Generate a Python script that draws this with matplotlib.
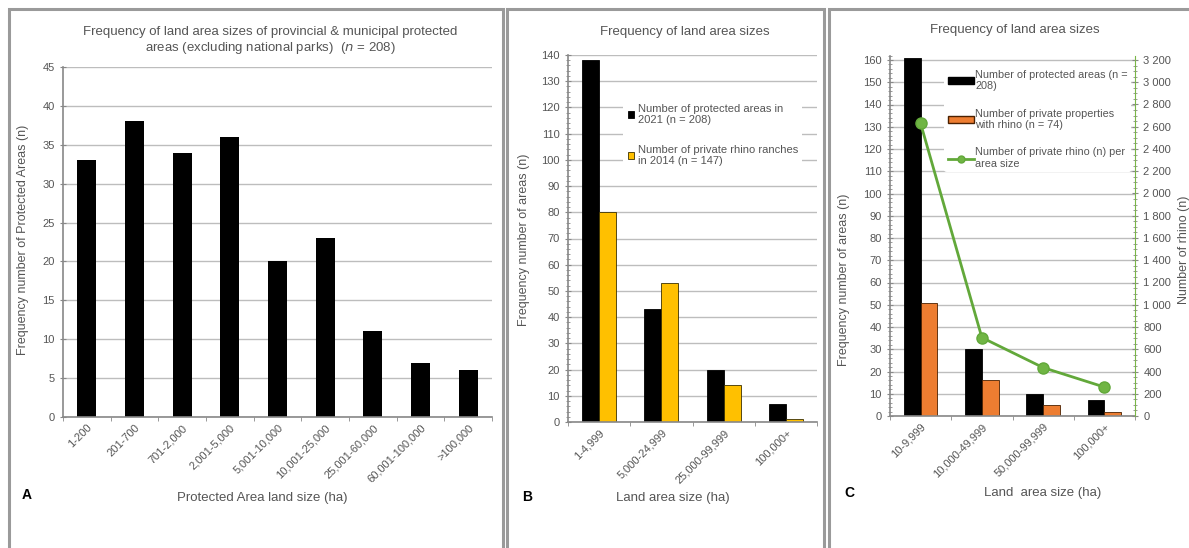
import numpy as np
import matplotlib.pyplot as plt
from matplotlib.patches import Rectangle
from matplotlib.lines import Line2D
from matplotlib.ticker import MultipleLocator, FuncFormatter

plt.rcParams['font.family'] = ['Liberation Sans', 'DejaVu Sans']

# panel A data
cats_a = ['1-200', '201-700', '701-2,000', '2,001-5,000', '5,001-10,000',
          '10,001-25,000', '25,001-60,000', '60,001-100,000', '>100,000']
vals_a = [33, 38, 34, 36, 20, 23, 11, 7, 6]

# panel B data
cats_b = ['1-4,999', '5,000-24,999', '25,000-99,999', '100,000+']
pa_2021 = [138, 43, 20, 7]
ranches_2014 = [80, 53, 14, 1]

# panel C data
cats_c = ['10-9,999', '10,000-49,999', '50,000-99,999', '100,000+']
pa_c = [161, 30, 10, 7]
private_rhino_props = [51, 16, 5, 2]
rhino_count = [2630, 705, 435, 260]

W, H = 1189, 548
fig = plt.figure(figsize=(W / 100, H / 100), dpi=100)

TXT = '#555555'
GRID = '#bdbdbd'
SPINE = '#888888'
TICK_FS = 8


def px_axes(l, t, r, b):
    return fig.add_axes([l / W, 1 - b / H, (r - l) / W, (b - t) / H])


def ftext(x, y, s, **kw):
    kw.setdefault('color', TXT)
    kw.setdefault('ha', 'center')
    kw.setdefault('va', 'center')
    fig.text(x / W, 1 - y / H, s, **kw)


def style(ax, ymax, major, minor=None):
    ax.set_ylim(0, ymax)
    ax.yaxis.set_major_locator(MultipleLocator(major))
    if minor:
        ax.yaxis.set_minor_locator(MultipleLocator(minor))
    for s in ['top', 'right']:
        ax.spines[s].set_visible(False)
    for s in ['left', 'bottom']:
        ax.spines[s].set_color(SPINE)
        ax.spines[s].set_linewidth(1.2)
    ax.grid(axis='y', color=GRID, lw=1)
    ax.set_axisbelow(True)
    ax.tick_params(axis='y', which='both', direction='inout', colors=SPINE,
                   labelcolor=TXT, labelsize=TICK_FS, length=5)
    ax.tick_params(axis='y', which='minor', length=3)
    ax.tick_params(axis='x', which='major', length=0, labelcolor=TXT,
                   labelsize=TICK_FS, pad=4)
    ax.tick_params(axis='x', which='minor', length=3, colors=SPINE, direction='out')


# panel frames
for l, r in [(9, 503), (507, 824), (829, 1200)]:
    fig.add_artist(Rectangle((l / W, -0.1), (r - l) / W, 1.1 - 9 / H,
                             transform=fig.transFigure, fill=False,
                             ec='#9a9a9a', lw=2.2))

# ---- A ----
ax = px_axes(63, 67, 492, 417)
xa = np.arange(len(cats_a))
ax.bar(xa, vals_a, width=0.4, color='black')
ax.set_xlim(-0.5, len(cats_a) - 0.5)
style(ax, 45, 5)
ax.set_xticks(xa)
ax.set_xticklabels(cats_a, rotation=45, ha='right', rotation_mode='anchor')
ax.set_xticks(np.arange(len(cats_a) + 1) - 0.5, minor=True)
ftext(270, 32, 'Frequency of land area sizes of provincial & municipal protected', fontsize=9.5)
ftext(270, 48, 'areas (excluding national parks)  ($n$ = 208)', fontsize=9.5)
ftext(23, 240, 'Frequency number of Protected Areas (n)', rotation=90, fontsize=9)
ftext(262, 498, 'Protected Area land size (ha)', fontsize=9.5)
ftext(27, 495, 'A', fontsize=10, weight='bold', color='black')

# ---- B ----
ax = px_axes(568, 55, 817, 422)
xb = np.arange(len(cats_b))
bw = 0.275
ax.bar(xb - bw / 2, pa_2021, width=bw, color='black', ec='black', lw=0.6,
       label='Number of protected areas in\n2021 (n = 208)')
ax.bar(xb + bw / 2, ranches_2014, width=bw, color='#ffc000', ec='#3a3000', lw=0.6,
       label='Number of private rhino ranches\nin 2014 (n = 147)')
ax.set_xlim(-0.5, len(cats_b) - 0.5)
style(ax, 140, 10, 2)
ax.set_xticks(xb)
ax.set_xticklabels(cats_b, rotation=45, ha='right', rotation_mode='anchor')
ax.set_xticks(np.arange(len(cats_b) + 1) - 0.5, minor=True)
ax.legend(loc='upper left', bbox_to_anchor=(0.2, 0.895), frameon=True,
          facecolor='white', edgecolor='none', framealpha=1,
          fontsize=8, handlelength=0.6, handleheight=0.6, handletextpad=0.3,
          labelspacing=1.75, labelcolor=TXT)
ftext(685, 32, 'Frequency of land area sizes', fontsize=9.5)
ftext(524, 240, 'Frequency number of areas (n)', rotation=90, fontsize=9)
ftext(673, 498, 'Land area size (ha)', fontsize=9.5)
ftext(527, 497, 'B', fontsize=10, weight='bold', color='black')

# ---- C ----
C_TOP = 416 - 162 * 356 / 160
ax = px_axes(890, C_TOP, 1135, 416)
xc = np.arange(len(cats_c))
ax.bar(xc - bw / 2, pa_c, width=bw, color='black', ec='black', lw=0.6)
ax.bar(xc + bw / 2, private_rhino_props, width=bw, color='#ed7d31', ec='#4a2000', lw=0.6)
ax.set_xlim(-0.5, len(cats_c) - 0.5)
style(ax, 162, 10, 2)
ax.set_xticks(xc)
ax.set_xticklabels(cats_c, rotation=45, ha='right', rotation_mode='anchor')
ax.set_xticks(np.arange(len(cats_c) + 1) - 0.5, minor=True)

ax2 = ax.twinx()
ax2.plot(xc, rhino_count, color='#62a83a', lw=2, marker='o', ms=8,
         mfc='#70b544', mec='#62a83a')
ax2.set_ylim(0, 3240)
ax2.yaxis.set_major_locator(MultipleLocator(200))
ax2.yaxis.set_minor_locator(MultipleLocator(50))
ax2.yaxis.set_major_formatter(FuncFormatter(lambda v, p: f'{int(v):,}'.replace(',', ' ')))
for s in ['top', 'left', 'bottom']:
    ax2.spines[s].set_visible(False)
ax2.spines['right'].set_color('#7ab648')
ax2.spines['right'].set_linestyle((0, (2, 1)))
ax2.tick_params(axis='y', which='both', direction='inout', colors=SPINE,
                labelcolor=TXT, labelsize=TICK_FS, length=5)
ax2.tick_params(axis='y', which='minor', length=3)

handles = [Rectangle((0, 0), 1, 1, fc='black', ec='black'),
           Rectangle((0, 0), 1, 1, fc='#ed7d31', ec='#4a2000'),
           Line2D([], [], color='#62a83a', lw=2, marker='o', ms=5, mfc='#70b544')]
labels = ['Number of protected areas (n =\n208)',
          'Number of private properties\nwith rhino (n = 74)',
          'Number of private rhino (n) per\narea size']
ax2.legend(handles, labels, loc='upper left', bbox_to_anchor=(0.2, 0.985),
           frameon=True, facecolor='white', edgecolor='none', framealpha=1,
           fontsize=7.8, handlelength=2.4, handleheight=0.5, handletextpad=0.15,
           labelspacing=1.6, labelcolor=TXT, borderpad=0.3)
ftext(1015, 30, 'Frequency of land area sizes', fontsize=9.5)
ftext(844, 280, 'Frequency number of areas (n)', rotation=90, fontsize=9)
ftext(1184, 250, 'Number of rhino (n)', rotation=90, fontsize=9)
ftext(1043, 493, 'Land  area size (ha)', fontsize=9.5)
ftext(849, 493, 'C', fontsize=10, weight='bold', color='black')

fig.savefig('out.png', dpi=100)
